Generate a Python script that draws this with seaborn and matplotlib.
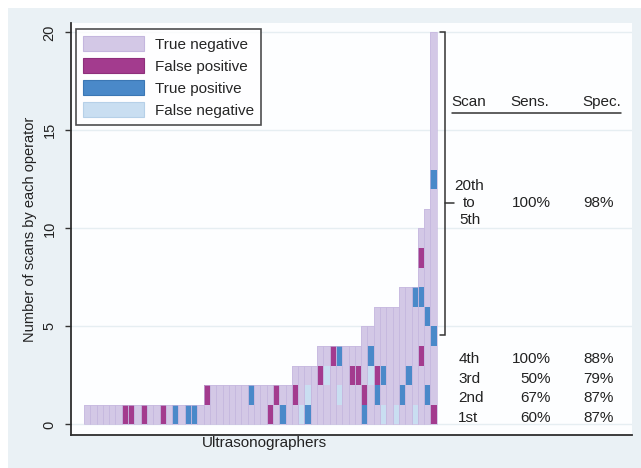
"""Scans per ultrasonographer, coloured by outcome of each scan."""

import numpy as np
import matplotlib
matplotlib.use("Agg")
import matplotlib.pyplot as plt
from matplotlib.colors import ListedColormap
from matplotlib.patches import Patch, Rectangle
import seaborn as sns

# number of scans done by each operator (sorted)
heights = [1, 1, 1, 1, 1, 1, 1, 1, 1, 1, 1, 1, 1, 1, 1, 1, 1, 1, 1,
           2, 2, 2, 2, 2, 2, 2, 2, 2, 2, 2, 2, 2, 2,
           3, 3, 3, 3,
           4, 4, 4, 4, 4, 4, 4,
           5, 5,
           6, 6, 6, 6,
           7, 7, 7,
           10, 11, 20]

# (operator index, scan number - 1) for every scan that is not a true negative
false_pos = [(6, 0), (7, 0), (9, 0), (12, 0), (29, 0), (55, 0),
             (19, 1), (30, 1), (33, 1), (44, 1),
             (37, 2), (42, 2), (43, 2), (46, 2),
             (39, 3), (53, 3), (53, 8)]
true_pos = [(14, 0), (16, 0), (17, 0), (31, 0), (35, 0), (44, 0),
            (26, 1), (46, 1), (50, 1), (54, 1),
            (47, 2), (51, 2), (40, 3), (45, 3),
            (55, 4), (54, 5), (52, 6), (53, 6), (55, 12)]
false_neg = [(34, 0), (47, 0), (49, 0), (52, 0),
             (35, 1), (40, 1), (38, 2), (45, 2)]

outcomes = ["True negative", "False positive", "True positive", "False negative"]
colors = ["#d3c8e6", "#a33b8e", "#4a89c9", "#c9def1"]
edges = ["#c4b6de", "#8e2f7b", "#3b77b5", "#b6d0e8"]

scan_labels = ["1st", "2nd", "3rd", "4th"]
sens = ["60%", "67%", "50%", "100%"]
spec = ["87%", "87%", "79%", "88%"]
late_label = "20th\nto\n5th"
late_sens = "100%"
late_spec = "98%"
late_range = (4.55, 20)

# grid of outcome codes, NaN where the operator did no scan
n_ops = len(heights)
n_rows = max(heights)
grid = np.full((n_rows, n_ops), np.nan)
for i, h in enumerate(heights):
    grid[:h, i] = 0
for code, cells in ((1, false_pos), (2, true_pos), (3, false_neg)):
    for op, scan in cells:
        grid[scan, op] = code

sns.set_theme(style="white")
plt.rcParams["font.family"] = ["Liberation Sans", "DejaVu Sans"]

fig = plt.figure(figsize=(6.41, 4.68), dpi=100, facecolor="white")
fig.patches.append(Rectangle((8 / 641, 0), 1, 1 - 8 / 468, transform=fig.transFigure,
                             facecolor="#eaf1f5", edgecolor="none", zorder=-5))
ax = fig.add_axes([71 / 641, 1 - 435 / 468, 561 / 641, 411.7 / 468])
ax.set_facecolor("#fdfeff")

sns.heatmap(grid, mask=np.isnan(grid), cmap=ListedColormap(colors), vmin=-0.5, vmax=3.5,
            cbar=False, xticklabels=False, yticklabels=False, ax=ax)
ax.bar(np.arange(n_ops), heights, width=1, align="edge", fill=False,
       edgecolor="#c6b8df", linewidth=0.5)

ax.set_xlim(-2.06, 87.0)
ax.set_ylim(-0.54, 20.46)
ax.set_yticks([0, 5, 10, 15, 20])
ax.set_yticklabels(["0", "5", "10", "15", "20"], rotation=90, va="center", fontsize=10.5)
ax.set_xticks([])
ax.tick_params(axis="y", left=True, length=4.5, width=1, color="#333333", pad=6,
               labelcolor="#222222")
ax.set_axisbelow(True)
ax.yaxis.grid(True, color="#e6eef2", linewidth=1)
for side in ("left", "bottom"):
    ax.spines[side].set_visible(True)
    ax.spines[side].set_color("#2e2e2e")
    ax.spines[side].set_linewidth(1.3)

ax.set_ylabel("Number of scans by each operator", fontsize=10.5, color="#222222")
ax.set_xlabel("Ultrasonographers", fontsize=11, color="#222222")
ax.xaxis.set_label_coords(0.344, -0.002)

handles = [Patch(facecolor=c, edgecolor=e, linewidth=0.8) for c, e in zip(colors, edges)]
leg = ax.legend(handles, outcomes, loc="upper left", bbox_to_anchor=(0.009, 0.985),
                borderaxespad=0, fontsize=11, handlelength=4.0, handleheight=1.1,
                labelspacing=0.42, handletextpad=0.7, borderpad=0.45,
                fancybox=False, frameon=True)
leg.get_frame().set_edgecolor("#222222")
leg.get_frame().set_linewidth(1.2)
leg.get_frame().set_facecolor("white")

# bracket over scans 5 to 20
bx = n_ops + 1.3
lo, hi = late_range
ax.plot([n_ops + 0.5, bx, bx, n_ops + 0.5], [hi, hi, lo, lo], color="#333333", lw=1.1,
        solid_joinstyle="miter")
ax.plot([bx, bx + 1.4], [11.3, 11.3], color="#333333", lw=1.1)

# sensitivity / specificity table
x_scan, x_sens, x_spec = 59.4, 74.1, 84.1
txt = dict(fontsize=11, color="#222222", va="center")
ax.text(58.4, 16.45, "Scan", ha="left", **txt)
ax.text(73.8, 16.45, "Sens.", ha="right", **txt)
ax.text(85.2, 16.45, "Spec.", ha="right", **txt)
ax.plot([58.4, 85.2], [15.88, 15.88], color="#333333", lw=1.1)

ax.text(61.2, 11.3, late_label, ha="center", linespacing=1.25, **txt)
ax.text(x_sens, 11.3, late_sens, ha="right", **txt)
ax.text(x_spec, 11.3, late_spec, ha="right", **txt)

for r, (lab, se, sp) in enumerate(zip(scan_labels, sens, spec)):
    ax.text(x_scan, r + 0.33, lab, ha="left", **txt)
    ax.text(x_sens, r + 0.33, se, ha="right", **txt)
    ax.text(x_spec, r + 0.33, sp, ha="right", **txt)

fig.savefig("out.png", dpi=100, facecolor=fig.get_facecolor())
